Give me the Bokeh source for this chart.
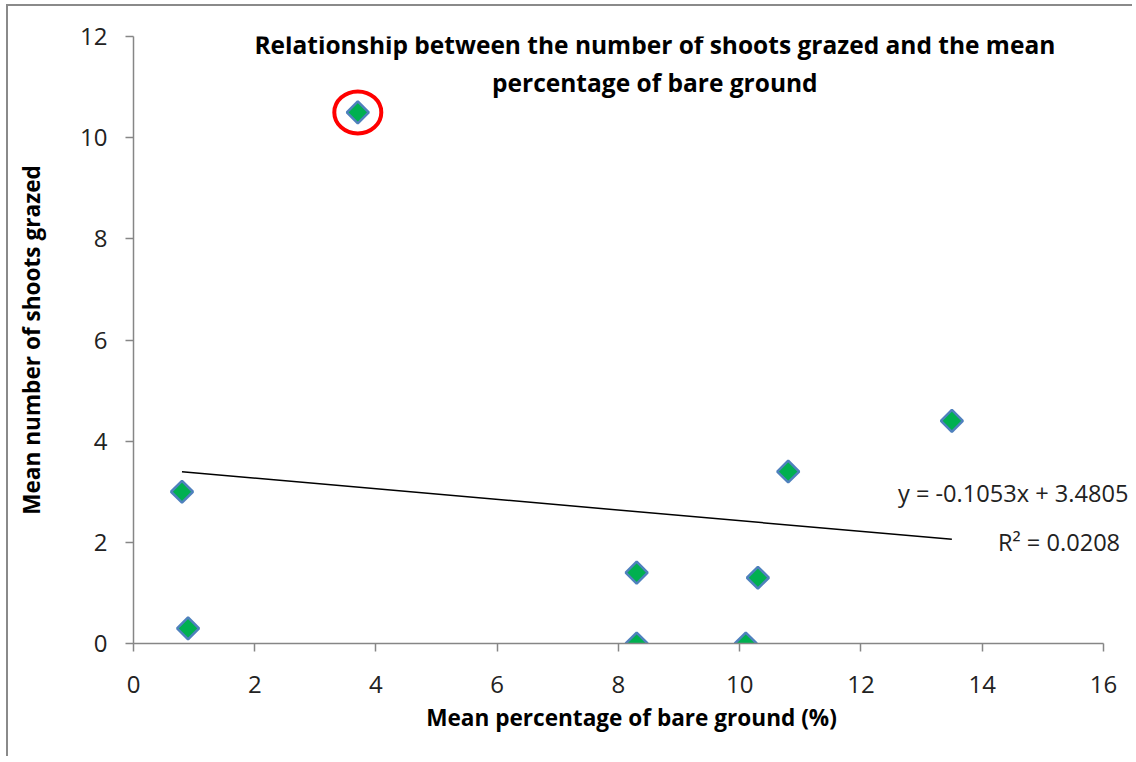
import numpy as np
from bokeh.plotting import figure
from bokeh.models import Range1d, FixedTicker, Label, ColumnDataSource
from bokeh.embed import file_html
from bokeh.resources import INLINE

# ---- data ----
bare_ground = [0.8, 0.9, 3.7, 8.3, 8.3, 10.1, 10.3, 10.8, 13.5]
shoots_grazed = [3.0, 0.3, 10.5, 1.4, 0.0, 0.0, 1.3, 3.4, 4.4]
highlight_index = 2
slope = -0.1053
intercept = 3.4805
r_squared = 0.0208
x_ticks = [0, 2, 4, 6, 8, 10, 12, 14, 16]
y_ticks = [0, 2, 4, 6, 8, 10, 12]
title_lines = ["Relationship between the number of shoots grazed and the mean",
               "percentage of bare ground"]
x_label = "Mean percentage of bare ground (%)"
y_label = "Mean number of shoots grazed"

FONT = "Open Sans"
AXIS_GRAY = "#868686"

p = figure(width=1126, height=752, output_backend="svg", toolbar_location=None,
           x_range=Range1d(0, 16.43), y_range=Range1d(0, 12))
p.min_border_left = 125
p.min_border_right = 5
p.min_border_top = 30
p.min_border_bottom = 115
p.outline_line_color = None
p.grid.grid_line_color = None
p.background_fill_color = "white"
p.border_fill_color = "white"
p.styles = {"margin-left": "6px", "margin-top": "4px",
            "border-left": "2px solid #8a8a8a", "border-top": "2px solid #8a8a8a"}

for ax in (p.xaxis[0], p.yaxis[0]):
    ax.axis_line_color = AXIS_GRAY
    ax.axis_line_width = 1.5
    ax.major_tick_line_color = AXIS_GRAY
    ax.major_tick_line_width = 1.5
    ax.major_tick_out = 8
    ax.major_tick_in = 0
    ax.minor_tick_line_color = None
    ax.major_label_text_font = FONT
    ax.major_label_text_font_size = "24px"
    ax.major_label_text_color = "#222222"
    ax.axis_label_text_font = FONT
    ax.axis_label_text_font_style = "bold"
    ax.axis_label_text_font_size = "22.6px"
    ax.axis_label_text_color = "#000000"

p.xaxis.bounds = (x_ticks[0], x_ticks[-1])
p.xaxis.ticker = FixedTicker(ticks=x_ticks)
p.yaxis.ticker = FixedTicker(ticks=y_ticks)
p.xaxis.axis_label = x_label
p.yaxis.axis_label = y_label
p.xaxis.major_label_standoff = 24
p.yaxis.major_label_standoff = 18
p.xaxis.axis_label_standoff = 6
p.yaxis.axis_label_standoff = 30

# trend line across data extent
xs = np.array([min(bare_ground), max(bare_ground)])
p.line(xs, slope * xs + intercept, line_color="black", line_width=1.5)

src = ColumnDataSource(dict(x=bare_ground, y=shoots_grazed))
p.scatter("x", "y", source=src, marker="square", angle=np.pi / 4, size=15.5,
          fill_color="#00B050", line_color="#4F81BD", line_width=2.5)

# red ring highlighting outlier
p.ellipse(x=[bare_ground[highlight_index]], y=[shoots_grazed[highlight_index]],
          width=47, height=42, width_units="screen", height_units="screen",
          fill_color=None, line_color="#FF0000", line_width=4)

# title
p.add_layout(Label(x=8.6, y=11.84, text=title_lines[0], text_align="center",
                   text_baseline="middle", text_font=FONT, text_font_style="bold",
                   text_font_size="24.5px", text_color="black"))
p.add_layout(Label(x=8.6, y=11.09, text=title_lines[1], text_align="center",
                   text_baseline="middle", text_font=FONT, text_font_style="bold",
                   text_font_size="24.5px", text_color="black"))

# equation labels
p.add_layout(Label(x=12.61, y=2.98, text=f"y = {slope}x + {intercept}",
                   text_align="left", text_baseline="middle", text_font=FONT,
                   text_font_size="23.6px", text_color="#222222"))
p.add_layout(Label(x=14.26, y=2.0, text=f"R² = {r_squared}",
                   text_align="left", text_baseline="middle", text_font=FONT,
                   text_font_size="23.6px", text_color="#222222"))

open("out.html", "w").write(file_html(p, INLINE))
